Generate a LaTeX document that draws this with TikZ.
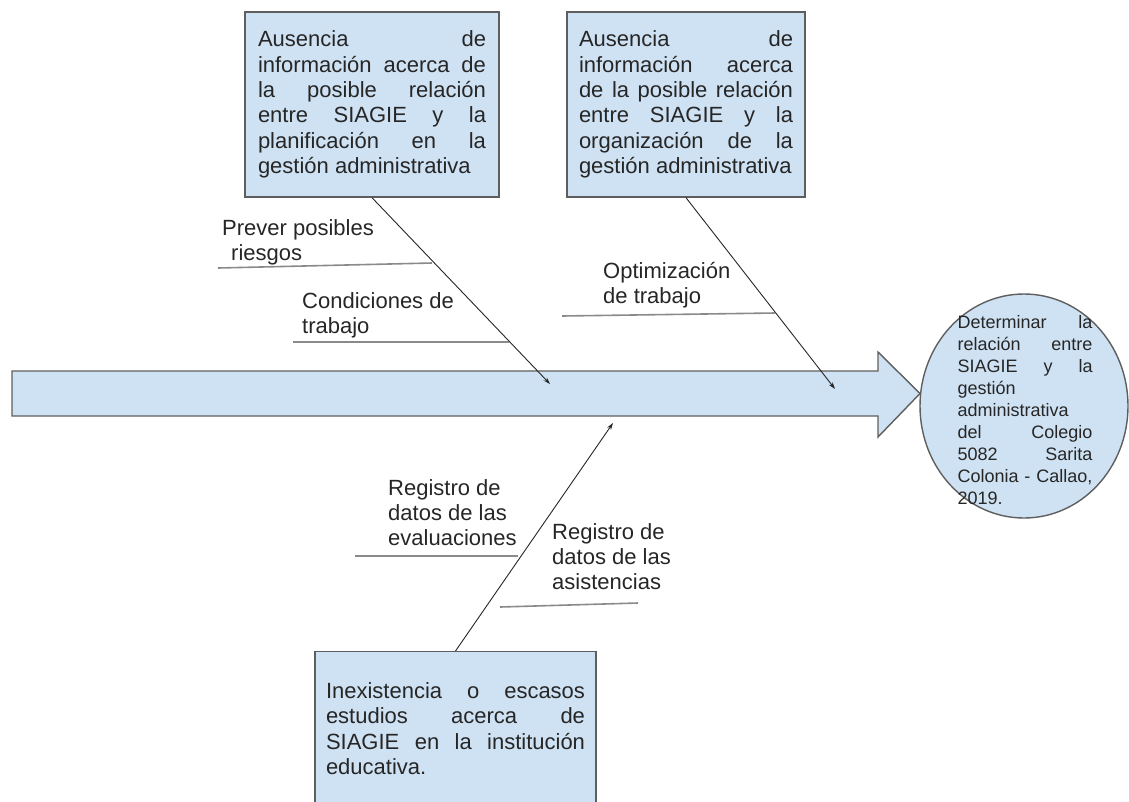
\documentclass[tikz,border=0pt]{standalone}
\usepackage{fontspec}
\setmainfont{Liberation Sans}
\usetikzlibrary{shapes.geometric,arrows.meta}
\definecolor{boxblue}{HTML}{CFE2F3}
\definecolor{edgegray}{HTML}{5E5E5E}
\definecolor{linegray}{HTML}{8A8A8A}
\definecolor{inkgray}{HTML}{262626}
\hyphenpenalty=10000
\exhyphenpenalty=10000

\begin{document}
\begin{tikzpicture}[x=1pt, y=-1pt,
    causebox/.style={draw=edgegray, line width=1.4pt, fill=boxblue, text=inkgray, align=justify, inner ysep=0pt, font=\fontsize{22}{25.3}\selectfont},
    causelabel/.style={anchor=north west, inner sep=0pt, align=left, text=inkgray, font=\fontsize{22}{25.3}\selectfont},
    bone/.style={draw=inkgray, line width=0.9pt, -{Stealth[length=7pt,width=4.5pt]}},
    rib/.style={draw=linegray, line width=1.6pt}]
    \useasboundingbox (0,0) rectangle (1129,801);
    \clip (0,0) rectangle (1129,801);

    % spine and effect
    \draw[draw=edgegray, line width=1.4pt, fill=boxblue] (12,371) -- (878,371) -- (878,352) -- (920,393.5) -- (878,437) -- (878,416) -- (12,416) -- cycle;
    \node[draw=edgegray, line width=1.4pt, fill=boxblue, ellipse, minimum width=208pt, minimum height=224pt, inner sep=0pt] (goal) at (1024,406) {};
    \node[text width=135pt, align=justify, inner sep=0pt, text=inkgray, font=\fontsize{18}{21.9}\selectfont] (goaltext) at (1025,410) {Determinar la\linebreak relación entre\linebreak SIAGIE y la\linebreak gestión\linebreak administrativa\linebreak del Colegio\linebreak 5082 Sarita\linebreak Colonia - Callao,\linebreak 2019.};

    % causes
    \node[causebox, text width=228pt, minimum width=254pt, minimum height=185pt] (planif) at (372,104.5) {Ausencia de\linebreak información acerca de\linebreak la posible relación\linebreak entre SIAGIE y la\linebreak planificación en la\linebreak gestión administrativa};
    \node[causebox, text width=214pt, minimum width=238pt, minimum height=185pt] (organiz) at (686,104.5) {Ausencia de\linebreak información acerca\linebreak de la posible relación\linebreak entre SIAGIE y la\linebreak organización de la\linebreak gestión administrativa};
    \node[causebox, text width=259pt, minimum width=281pt, minimum height=154pt, anchor=north] (estudios) at (455.5,651) {Inexistencia o escasos\linebreak estudios acerca de\linebreak SIAGIE en la institución\linebreak educativa.};

    \coordinate (hitplanif) at (550,384);
    \coordinate (hitorganiz) at (835,389);
    \coordinate (hitestudios) at (613,423);
    \draw[bone] (planif.south) -- (hitplanif);
    \draw[bone] (organiz.south) -- (hitorganiz);
    \draw[bone] (estudios.north) -- (hitestudios);

    % sub-causes
    \node[causelabel] (prever) at (222,219) {Prever posibles\\\hspace*{9pt}riesgos};
    \node[causelabel] (condic) at (302,292) {Condiciones de\\trabajo};
    \node[causelabel] (optim) at (603,262) {Optimización\\de trabajo};
    \node[causelabel] (evalua) at (388,479) {Registro de\\datos de las\\evaluaciones};
    \node[causelabel] (asist) at (552,523) {Registro de\\datos de las\\asistencias};

    \coordinate (preverL) at (218,268);
    \coordinate (preverR) at (432,263);
    \coordinate (condicL) at (293,342);
    \coordinate (condicR) at (509,342);
    \coordinate (optimL) at (562,316);
    \coordinate (optimR) at (775,313);
    \coordinate (evaluaL) at (355,556);
    \coordinate (evaluaR) at (518,556);
    \coordinate (asistL) at (500,607);
    \coordinate (asistR) at (638,603);
    \draw[rib] (preverL) -- (preverR);
    \draw[rib] (condicL) -- (condicR);
    \draw[rib] (optimL) -- (optimR);
    \draw[rib] (evaluaL) -- (evaluaR);
    \draw[rib] (asistL) -- (asistR);
\end{tikzpicture}
\end{document}
